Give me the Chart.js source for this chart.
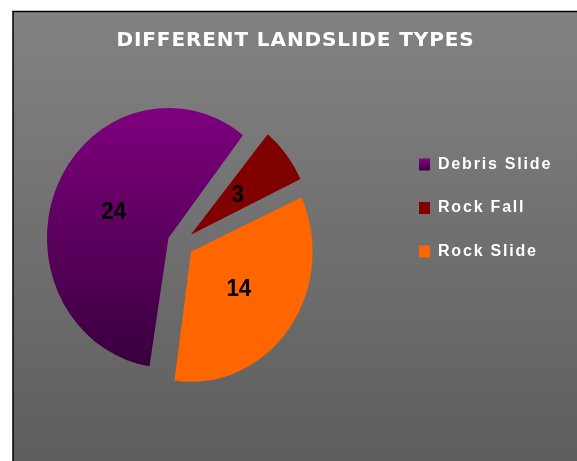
<!DOCTYPE html>
<html>
<head>
<meta charset="utf-8">
<title>Different Landslide Types</title>
<script src="https://cdn.jsdelivr.net/npm/chart.js@4.4.1/dist/chart.umd.min.js"></script>
<style>
  html, body { margin: 0; padding: 0; background: #fff; overflow: hidden; }
  canvas { display: block; }
</style>
</head>
<body>
<canvas id="landslide-chart" width="577" height="461"></canvas>
<script>
// chart data
const chartTitle = 'DIFFERENT LANDSLIDE TYPES';
const categories = ['Debris Slide', 'Rock Fall', 'Rock Slide'];
const counts = [24, 3, 14];

// look
const sliceColors = ['#800080', '#800000', '#ff6600'];
const pieRadius = 130;   // visible radius of every slice
const explode = 56;      // chart.js arc offset, moves a slice by explode / 4
const squeeze = 0.935;   // the original pie is a bit narrower than tall

function purpleShade(ctx, top, bottom) {
  const g = ctx.createLinearGradient(0, top, 0, bottom);
  g.addColorStop(0, '#800080');
  g.addColorStop(1, '#3a003e');
  return g;
}

// grey panel with the black frame line on top and left
const framePanel = {
  id: 'framePanel',
  beforeDraw(chart) {
    const { ctx, width, height } = chart;
    ctx.save();
    ctx.fillStyle = '#ffffff';
    ctx.fillRect(0, 0, width, height);
    const g = ctx.createLinearGradient(0, 12, 0, height);
    g.addColorStop(0, '#828282');
    g.addColorStop(1, '#5e5e5e');
    ctx.fillStyle = g;
    ctx.fillRect(13, 11, width - 13, height - 11);
    ctx.strokeStyle = '#000000';
    ctx.lineWidth = 1.5;
    ctx.beginPath();
    ctx.moveTo(13, height);
    ctx.lineTo(13, 11.5);
    ctx.lineTo(width, 11.5);
    ctx.stroke();
    ctx.restore();
  }
};

// wider letter spacing for title and legend text
const letterSpacing = {
  id: 'letterSpacing',
  afterInit(chart) {
    const spaced = (box, name, px) => {
      const original = box[name];
      box[name] = function (...args) {
        chart.ctx.letterSpacing = px;
        const result = original.apply(this, args);
        chart.ctx.letterSpacing = '0px';
        return result;
      };
    };
    spaced(chart.legend, 'fit', '1.8px');
    spaced(chart.legend, 'draw', '1.8px');
    spaced(chart.titleBlock, 'draw', '0.9px');
  }
};

// exploded slices with equal radius, slightly squeezed, with value labels
const pieLook = {
  id: 'pieLook',
  afterDatasetUpdate(chart, args) {
    args.meta.data.forEach(arc => {
      const fix = 1 - Math.sin(Math.min(Math.PI, arc.circumference));
      arc.outerRadius = pieRadius - (explode / 4) * fix;
    });
  },
  beforeDatasetsDraw(chart) {
    const { ctx, chartArea } = chart;
    const cx = (chartArea.left + chartArea.right) / 2;
    ctx.save();
    ctx.translate(cx, 0);
    ctx.scale(squeeze, 1);
    ctx.translate(-cx, 0);
  },
  afterDatasetsDraw(chart) {
    const ctx = chart.ctx;
    const arcs = chart.getDatasetMeta(0).data;
    ctx.font = 'bold 24px "Liberation Sans", Arial, sans-serif';
    ctx.fillStyle = '#000000';
    ctx.textAlign = 'center';
    ctx.textBaseline = 'middle';
    arcs.forEach((arc, i) => {
      const mid = (arc.startAngle + arc.endAngle) / 2;
      const d = explode / 4 + 0.49 * pieRadius;
      ctx.fillText(String(counts[i]), arc.x + Math.cos(mid) * d, arc.y + Math.sin(mid) * d);
    });
    ctx.restore();
  }
};

const canvas = document.getElementById('landslide-chart');

new Chart(canvas, {
  type: 'pie',
  data: {
    labels: categories,
    datasets: [{
      data: counts,
      backgroundColor: (c) => c.dataIndex === 0
        ? purpleShade(c.chart.ctx, 107, 367)
        : sliceColors[c.dataIndex],
      borderWidth: 0,
      offset: explode,
      hoverOffset: 0
    }]
  },
  options: {
    responsive: false,
    animation: false,
    events: [],
    rotation: 188,
    radius: pieRadius,
    layout: {
      padding: { top: 12, left: 34.5, right: 20.5, bottom: 37 }
    },
    plugins: {
      title: {
        display: true,
        text: chartTitle,
        color: '#ffffff',
        font: { family: '"DejaVu Sans", Verdana, sans-serif', size: 20, weight: 'bold', lineHeight: 1.2 },
        padding: { top: 17, bottom: 10 }
      },
      // empty box that keeps the legend clear of the pie
      subtitle: {
        display: true,
        text: '',
        position: 'right',
        fullSize: false,
        weight: 100,
        font: { size: 10, lineHeight: 1.2 },
        padding: { top: 53, bottom: 0 }
      },
      legend: {
        display: true,
        position: 'right',
        align: 'start',
        fullSize: false,
        maxWidth: 165,
        title: {
          display: true,
          text: '',
          font: { size: 10, lineHeight: 1.2 },
          padding: { top: 54, bottom: 0 }
        },
        labels: {
          color: '#ffffff',
          font: { family: '"Liberation Sans", Arial, sans-serif', size: 16, weight: 'bold' },
          boxWidth: 11,
          boxHeight: 12,
          padding: 27.5,
          generateLabels(chart) {
            const items = Chart.overrides.pie.plugins.legend.labels.generateLabels(chart);
            items[0].fillStyle = purpleShade(chart.ctx, 159, 171);
            return items;
          }
        }
      },
      tooltip: { enabled: false }
    }
  },
  plugins: [framePanel, letterSpacing, pieLook]
});
</script>
</body>
</html>
